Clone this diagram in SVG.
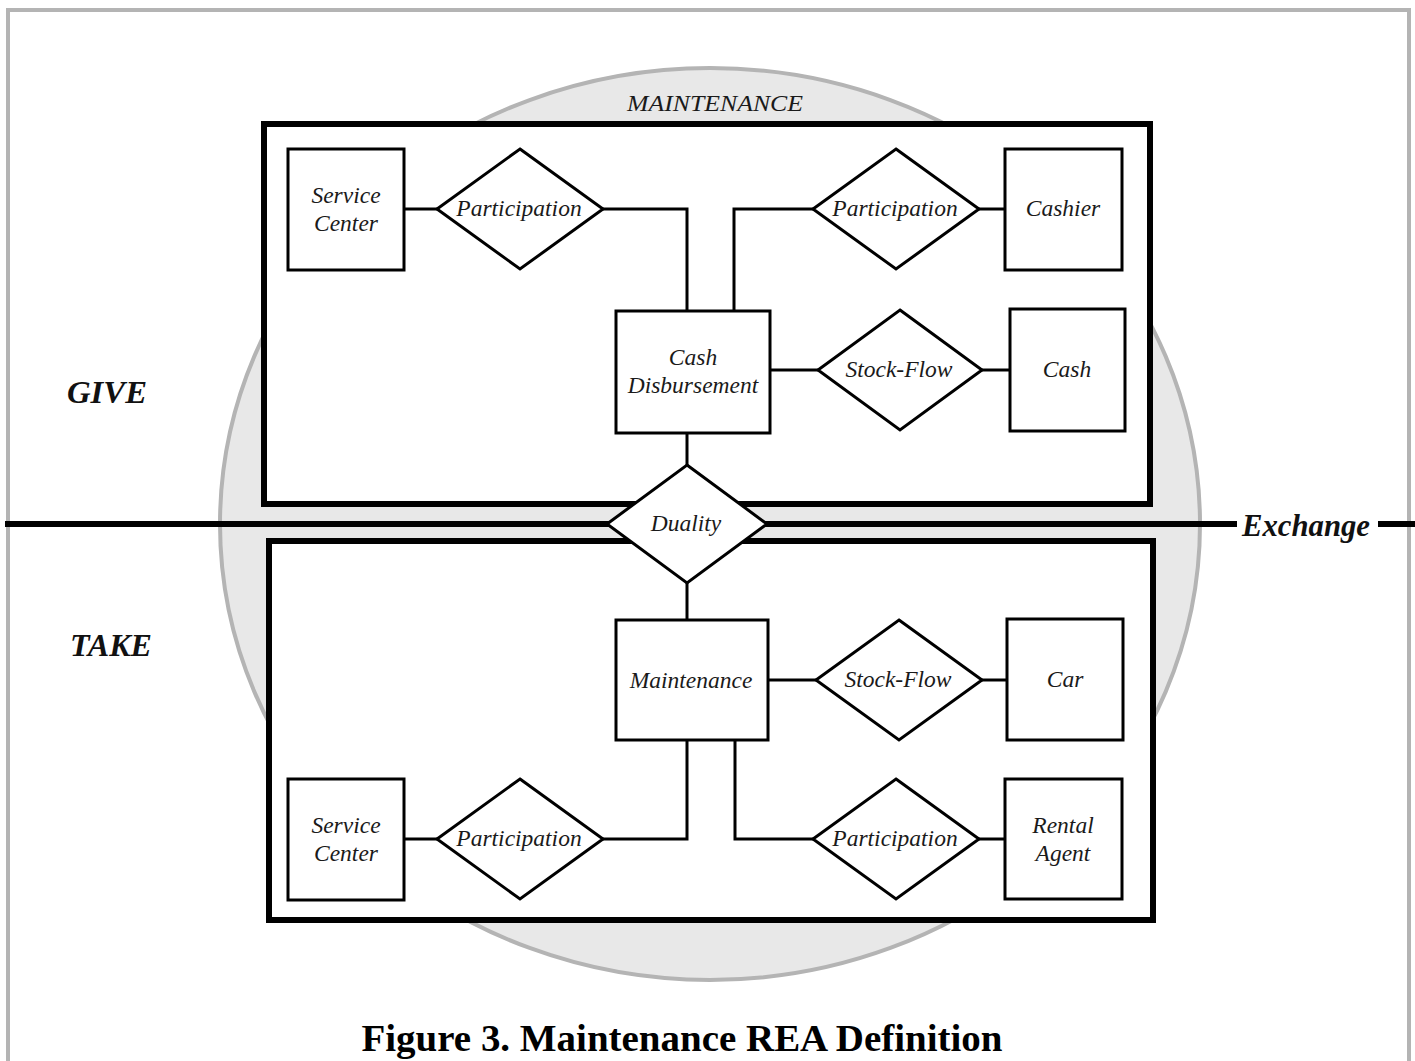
<svg xmlns="http://www.w3.org/2000/svg" width="1415" height="1061" viewBox="0 0 1415 1061">
  <style>
    .ent { fill: #ffffff; stroke: #000000; stroke-width: 3; }
    .rel { fill: #ffffff; stroke: #000000; stroke-width: 3; stroke-linejoin: miter; }
    .frame { fill: #ffffff; stroke: #000000; stroke-width: 6; }
    .conn { fill: none; stroke: #000000; stroke-width: 3; }
    .lbl { font-family: "Liberation Serif", "Times New Roman", serif; font-style: italic; font-size: 23.5px; fill: #1a1a1a; text-anchor: middle; }
    .side { font-family: "Liberation Serif", "Times New Roman", serif; font-style: italic; font-weight: bold; font-size: 31px; fill: #111111; }
  </style>

  <!-- page border -->
  <rect x="8" y="10" width="1401" height="1070" fill="#ffffff" stroke="#b4b4b4" stroke-width="4"/>

  <!-- scope of the maintenance process -->
  <ellipse cx="710" cy="524" rx="490" ry="456" fill="#e8e8e8" stroke="#b4b4b4" stroke-width="4"/>
  <text x="715" y="111" font-family="Liberation Serif, Times New Roman, serif" font-style="italic" font-size="24" fill="#1a1a1a" text-anchor="middle" textLength="176" lengthAdjust="spacingAndGlyphs">MAINTENANCE</text>

  <!-- exchange boundary -->
  <line x1="5" y1="524" x2="1237" y2="524" stroke="#000000" stroke-width="6"/>
  <line x1="1378" y1="524" x2="1415" y2="524" stroke="#000000" stroke-width="6"/>
  <text x="1306" y="536" class="side" font-size="30" text-anchor="middle" textLength="128" lengthAdjust="spacingAndGlyphs">Exchange</text>

  <!-- give / take frames -->
  <g id="give-frame">
    <rect class="frame" x="264" y="124" width="886" height="380"/>
    <text class="side" x="67" y="403" textLength="80" lengthAdjust="spacingAndGlyphs">GIVE</text>
  </g>
  <g id="take-frame">
    <rect class="frame" x="269" y="541" width="884" height="379"/>
    <text class="side" x="70" y="656" textLength="82" lengthAdjust="spacingAndGlyphs">TAKE</text>
  </g>

  <!-- connectors -->
  <g id="connectors">
    <path class="conn" d="M404 209 H437"/>
    <path class="conn" d="M603 209 H687 V311"/>
    <path class="conn" d="M734 311 V209 H813"/>
    <path class="conn" d="M979 209 H1005"/>
    <path class="conn" d="M770 370 H818"/>
    <path class="conn" d="M982 370 H1010"/>
    <path class="conn" d="M687 433 V465"/>
    <path class="conn" d="M687 583 V620"/>
    <path class="conn" d="M768 680 H816"/>
    <path class="conn" d="M982 680 H1007"/>
    <path class="conn" d="M687 740 V839 H603"/>
    <path class="conn" d="M437 839 H404"/>
    <path class="conn" d="M735 740 V839 H813"/>
    <path class="conn" d="M979 839 H1005"/>
  </g>

  <!-- give side -->
  <g id="service-center-give">
    <rect class="ent" x="288" y="149" width="116" height="121"/>
    <text class="lbl" x="346" y="203">Service</text>
    <text class="lbl" x="346" y="231">Center</text>
  </g>
  <g id="participation-give-1">
    <polygon class="rel" points="520,149 603,209 520,269 437,209"/>
    <text class="lbl" x="519" y="216">Participation</text>
  </g>
  <g id="participation-give-2">
    <polygon class="rel" points="896,149 979,209 896,269 813,209"/>
    <text class="lbl" x="895" y="216">Participation</text>
  </g>
  <g id="cashier">
    <rect class="ent" x="1005" y="149" width="117" height="121"/>
    <text class="lbl" x="1063" y="216">Cashier</text>
  </g>
  <g id="cash-disbursement">
    <rect class="ent" x="616" y="311" width="154" height="122"/>
    <text class="lbl" x="693" y="365">Cash</text>
    <text class="lbl" x="693" y="393">Disbursement</text>
  </g>
  <g id="stock-flow-give">
    <polygon class="rel" points="900,310 982,370 900,430 818,370"/>
    <text class="lbl" x="899" y="377">Stock-Flow</text>
  </g>
  <g id="cash">
    <rect class="ent" x="1010" y="309" width="115" height="122"/>
    <text class="lbl" x="1067" y="377">Cash</text>
  </g>

  <!-- duality between give and take -->
  <g id="duality">
    <polygon class="rel" points="687,465 767,524 687,583 607,524"/>
    <text class="lbl" x="686" y="531">Duality</text>
  </g>

  <!-- take side -->
  <g id="maintenance">
    <rect class="ent" x="616" y="620" width="152" height="120"/>
    <text class="lbl" x="691" y="688">Maintenance</text>
  </g>
  <g id="stock-flow-take">
    <polygon class="rel" points="899,620 982,680 899,740 816,680"/>
    <text class="lbl" x="898" y="687">Stock-Flow</text>
  </g>
  <g id="car">
    <rect class="ent" x="1007" y="619" width="116" height="121"/>
    <text class="lbl" x="1065" y="687">Car</text>
  </g>
  <g id="service-center-take">
    <rect class="ent" x="288" y="779" width="116" height="121"/>
    <text class="lbl" x="346" y="833">Service</text>
    <text class="lbl" x="346" y="861">Center</text>
  </g>
  <g id="participation-take-1">
    <polygon class="rel" points="520,779 603,839 520,899 437,839"/>
    <text class="lbl" x="519" y="846">Participation</text>
  </g>
  <g id="participation-take-2">
    <polygon class="rel" points="896,779 979,839 896,899 813,839"/>
    <text class="lbl" x="895" y="846">Participation</text>
  </g>
  <g id="rental-agent">
    <rect class="ent" x="1005" y="779" width="117" height="120"/>
    <text class="lbl" x="1063" y="833">Rental</text>
    <text class="lbl" x="1063" y="861">Agent</text>
  </g>

  <!-- caption -->
  <text x="682" y="1051" font-family="Liberation Serif, Times New Roman, serif" font-weight="bold" font-size="38" fill="#000000" text-anchor="middle" textLength="641" lengthAdjust="spacingAndGlyphs">Figure 3. Maintenance REA Definition</text>
</svg>
